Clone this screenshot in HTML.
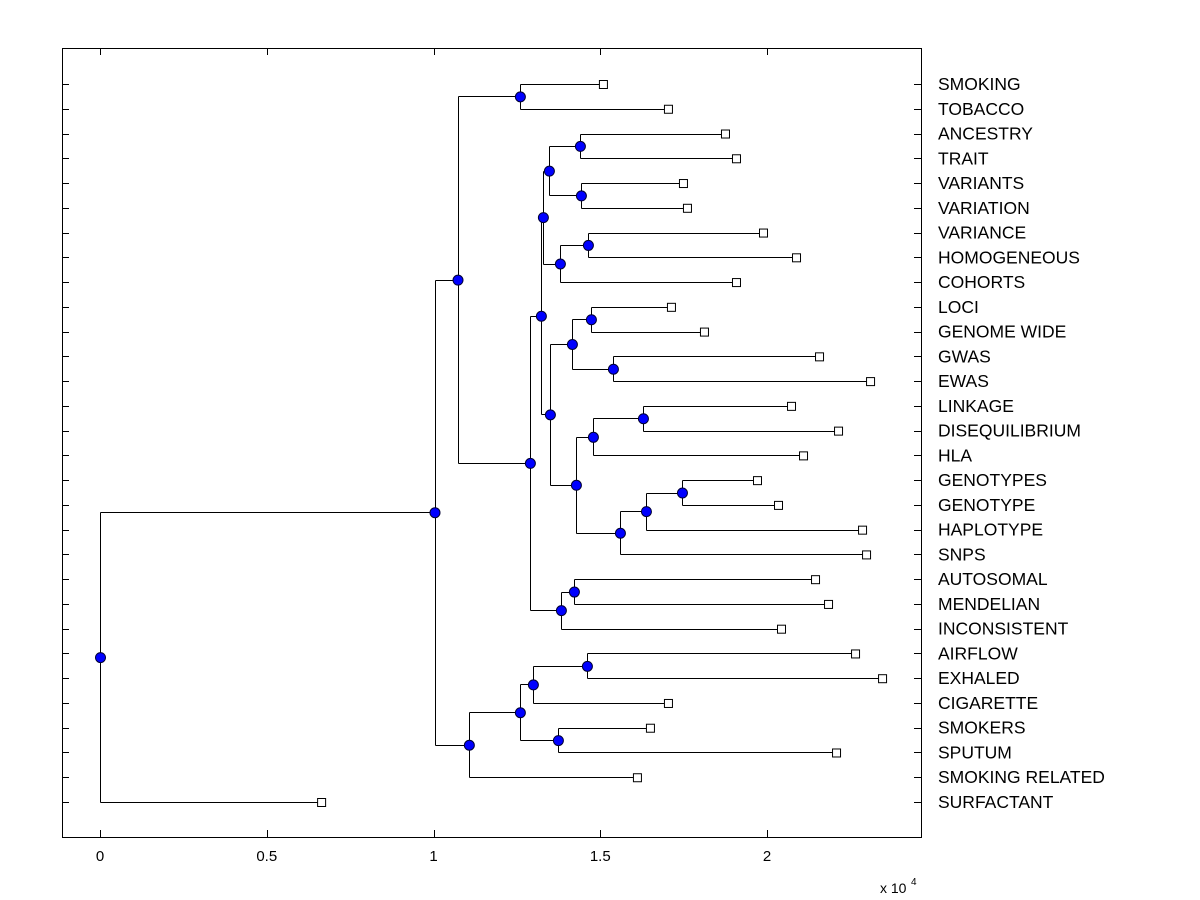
<!DOCTYPE html>
<html><head><meta charset="utf-8"><style>
body{margin:0;background:#fff;}
svg{display:block;font-family:"Liberation Sans",Arial,sans-serif;}
</style></head><body>
<svg id="chart" width="1200" height="900" viewBox="0 0 1200 900">
<rect x="62.5" y="48.5" width="859" height="789" fill="#fff" stroke="#000" stroke-width="1"/>
<g id="g"></g>
</svg>
<script>
const leafNames=["SMOKING","TOBACCO","ANCESTRY","TRAIT","VARIANTS","VARIATION","VARIANCE","HOMOGENEOUS","COHORTS","LOCI","GENOME WIDE","GWAS","EWAS","LINKAGE","DISEQUILIBRIUM","HLA","GENOTYPES","GENOTYPE","HAPLOTYPE","SNPS","AUTOSOMAL","MENDELIAN","INCONSISTENT","AIRFLOW","EXHALED","CIGARETTE","SMOKERS","SPUTUM","SMOKING RELATED","SURFACTANT"];
const leafHeights=[1.508,1.703,1.874,1.907,1.748,1.760,1.988,2.087,1.907,1.712,1.811,2.156,2.309,2.072,2.213,2.108,1.970,2.033,2.285,2.297,2.144,2.183,2.042,2.264,2.345,1.703,1.649,2.207,1.610,0.663];
const mergeLeft=[0,2,4,31,6,34,33,9,11,37,13,40,16,42,43,41,39,36,20,48,47,30,23,52,26,53,55,51,57];
const mergeRight=[1,3,5,32,7,8,35,10,12,38,14,15,17,18,19,44,45,46,21,22,49,50,24,25,27,54,28,56,29];
const mergeHeights=[1.259,1.439,1.442,1.346,1.463,1.379,1.328,1.472,1.538,1.415,1.628,1.478,1.745,1.637,1.559,1.427,1.349,1.322,1.421,1.382,1.289,1.072,1.460,1.298,1.373,1.259,1.106,1.003,0];
const xTicks=[0,0.5,1,1.5,2];
const xTickLabels=["0","0.5","1","1.5","2"];

const NS="http://www.w3.org/2000/svg";
const g=document.getElementById('g');
const xScale=v=>100+v*333.5;
const n=leafNames.length;
const y0=84, y1=802;
const yScale=i=>y0+i*(y1-y0)/(n-1);
function mk(tag,attrs){const e=document.createElementNS(NS,tag);for(const k in attrs)e.setAttribute(k,attrs[k]);g.appendChild(e);return e;}
const X=[],Y=[];
for(let i=0;i<n;i++){X[i]=xScale(leafHeights[i]);Y[i]=yScale(i);}
for(let k=0;k<mergeHeights.length;k++){
  const a=mergeLeft[k],b=mergeRight[k],id=n+k;
  X[id]=xScale(mergeHeights[k]);Y[id]=(Y[a]+Y[b])/2;
}
for(let i=0;i<n;i++){
  const y=Math.round(Y[i])+0.5;
  let t=mk('line',{x1:62,x2:69,y1:y,y2:y,stroke:'#000'});
  
  
  t=mk('line',{x1:914,x2:921,y1:y,y2:y,stroke:'#000'});
  
  
  const tx=mk('text',{x:938,y:Y[i]+6,'font-size':17.5,fill:'#000'});
  tx.textContent=leafNames[i];
  
  
}
xTicks.forEach((v,i)=>{
  const x=Math.round(xScale(v))+0.5;
  let t=mk('line',{x1:x,x2:x,y1:830,y2:837,stroke:'#000'});
  
  
  t=mk('line',{x1:x,x2:x,y1:48,y2:55,stroke:'#000'});
  
  
  const tx=mk('text',{x:xScale(v),y:861,'font-size':15,'text-anchor':'middle',fill:'#000'});
  tx.textContent=xTickLabels[i];
  
  
});
const ex=mk('text',{x:880,y:893,'font-size':14,fill:'#000'});
ex.textContent='x 10';


const ex2=mk('text',{x:911,y:885,'font-size':10,fill:'#000'});
ex2.textContent='4';


for(let k=0;k<mergeHeights.length;k++){
  const id=n+k,a=mergeLeft[k],b=mergeRight[k];
  const px=Math.round(X[id])+0.5;
  const d=`M${px},${Math.round(Y[a])+0.5}V${Math.round(Y[b])+0.5}M${px},${Math.round(Y[a])+0.5}H${X[a]}M${px},${Math.round(Y[b])+0.5}H${X[b]}`;
  const p=mk('path',{d:d,fill:'none',stroke:'#000','stroke-width':1});
  
  
}
for(let i=0;i<n;i++){
  const r=mk('rect',{x:X[i]-3.5,y:Y[i]-3.5,width:8,height:8,fill:'#fff',stroke:'#000'});
  
  
}
for(let k=0;k<mergeHeights.length;k++){
  const id=n+k;
  const c=mk('circle',{cx:X[id]+0.5,cy:Y[id]+0.5,r:5,fill:'#0000ff',stroke:'#000033','stroke-width':1});
  
  
}
</script>
</body></html>
